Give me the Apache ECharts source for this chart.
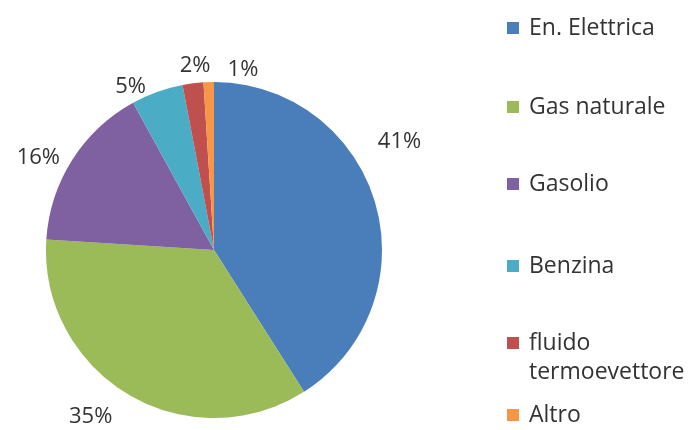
<!DOCTYPE html>
<html>
<head>
<meta charset="utf-8">
<script src="https://cdn.jsdelivr.net/npm/echarts@6/dist/echarts.min.js"></script>
<style>
  html, body { margin: 0; padding: 0; background: #ffffff; }
  #chart { width: 695px; height: 430px; }
</style>
</head>
<body>
<div id="chart"></div>
<script>
// Energy sources share (percent)
const categories = ['En. Elettrica', 'Gas naturale', 'Gasolio', 'Benzina', 'fluido termoevettore', 'Altro'];
const shares = [41, 35, 16, 5, 2, 1];
const colors = ['#4A7EBB', '#9BBB59', '#7F60A0', '#4BACC6', '#C0504D', '#F79646'];

// vertical centre of each legend marker
const legendCentres = [28, 107, 184, 266, 343, 415];
// small offsets that move each percentage label to a best-fit spot
const labelNudges = [[-14, -58], [-5, 12], [3, 4], [-2, 6], [24, -6], [55, 0]];

const FONT = '"Open Sans", sans-serif';
const TEXT_COLOR = '#333333';
const LINE = 29;

const legends = categories.map((name, i) => {
  const twoLine = name === 'fluido termoevettore';
  return {
    data: [name],
    left: 507,
    top: twoLine ? legendCentres[i] - LINE * 1.5 : legendCentres[i] - 12,
    icon: 'rect',
    itemWidth: 12,
    itemHeight: 12,
    padding: 0,
    selectedMode: false,
    // the blank first line keeps the marker level with "fluido"
    formatter: twoLine ? ' \nfluido\ntermoevettore' : '{name}',
    textStyle: {
      fontFamily: FONT,
      fontSize: 23,
      color: TEXT_COLOR,
      lineHeight: twoLine ? LINE : 24,
      padding: [0, 0, 0, 5]
    }
  };
});

const chart = echarts.init(document.getElementById('chart'));
chart.setOption({
  backgroundColor: '#ffffff',
  animation: false,
  color: colors,
  legend: legends,
  series: [{
    type: 'pie',
    center: [214, 250],
    radius: 168,
    startAngle: 90,
    clockwise: true,
    avoidLabelOverlap: false,
    data: categories.map((name, i) => ({ name, value: shares[i] })),
    label: {
      show: true,
      position: 'outside',
      formatter: p => p.value + '%',
      fontFamily: FONT,
      fontSize: 22,
      color: TEXT_COLOR
    },
    labelLine: { show: false, length: 12, length2: 0 },
    labelLayout: p => ({ dx: labelNudges[p.dataIndex][0], dy: labelNudges[p.dataIndex][1] }),
    itemStyle: { borderWidth: 0 }
  }]
});
</script>
</body>
</html>
